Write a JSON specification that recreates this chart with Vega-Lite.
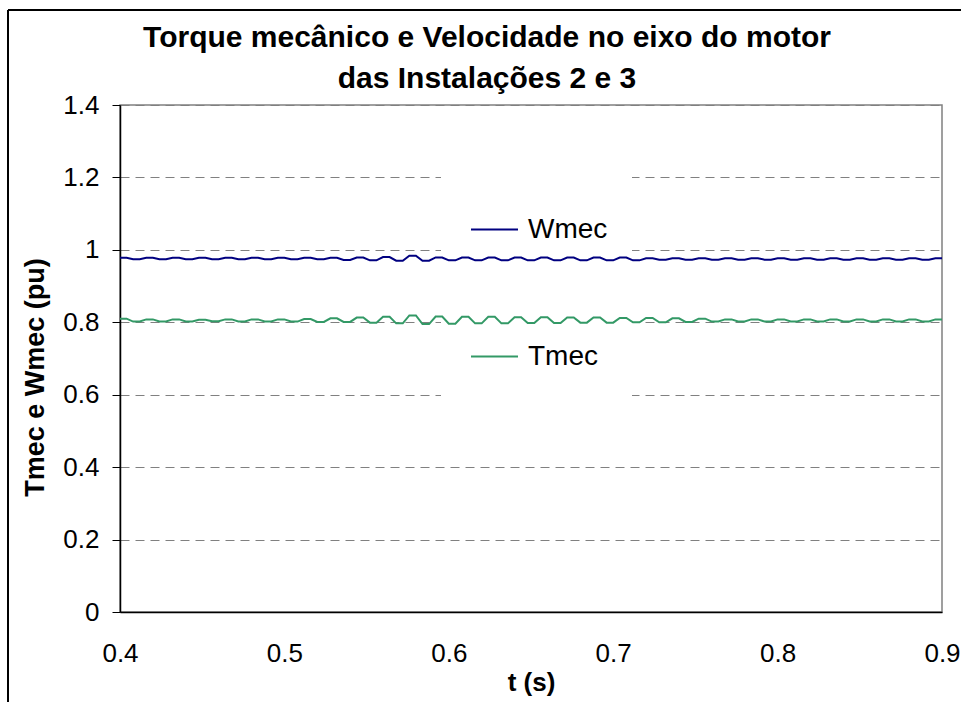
{
  "$schema": "https://vega.github.io/schema/vega-lite/v6.json",
  "autosize": "none",
  "width": 822,
  "height": 507,
  "padding": {"left": 120, "top": 105, "right": 19, "bottom": 90},
  "background": "white",
  "title": {
    "text": ["Torque mecânico e Velocidade no eixo do motor", "das Instalações 2 e 3"],
    "font": "Liberation Sans",
    "fontSize": 30,
    "fontWeight": "bold",
    "color": "black",
    "anchor": "middle",
    "frame": "group",
    "dx": -44,
    "dy": 85,
    "lineHeight": 41,
    "offset": 0
  },
  "data": {
    "values": [
      {"t": 0.400, "Wmec": 0.978, "Tmec": 0.810},
      {"t": 0.404, "Wmec": 0.978, "Tmec": 0.810},
      {"t": 0.408, "Wmec": 0.974, "Tmec": 0.802},
      {"t": 0.412, "Wmec": 0.974, "Tmec": 0.802},
      {"t": 0.416, "Wmec": 0.978, "Tmec": 0.808},
      {"t": 0.420, "Wmec": 0.978, "Tmec": 0.808},
      {"t": 0.424, "Wmec": 0.974, "Tmec": 0.802},
      {"t": 0.428, "Wmec": 0.974, "Tmec": 0.802},
      {"t": 0.432, "Wmec": 0.978, "Tmec": 0.808},
      {"t": 0.436, "Wmec": 0.978, "Tmec": 0.808},
      {"t": 0.440, "Wmec": 0.974, "Tmec": 0.802},
      {"t": 0.444, "Wmec": 0.974, "Tmec": 0.802},
      {"t": 0.448, "Wmec": 0.978, "Tmec": 0.807},
      {"t": 0.452, "Wmec": 0.978, "Tmec": 0.807},
      {"t": 0.456, "Wmec": 0.974, "Tmec": 0.803},
      {"t": 0.460, "Wmec": 0.974, "Tmec": 0.803},
      {"t": 0.464, "Wmec": 0.978, "Tmec": 0.808},
      {"t": 0.468, "Wmec": 0.978, "Tmec": 0.808},
      {"t": 0.472, "Wmec": 0.974, "Tmec": 0.802},
      {"t": 0.476, "Wmec": 0.974, "Tmec": 0.802},
      {"t": 0.480, "Wmec": 0.978, "Tmec": 0.808},
      {"t": 0.484, "Wmec": 0.978, "Tmec": 0.808},
      {"t": 0.488, "Wmec": 0.974, "Tmec": 0.802},
      {"t": 0.492, "Wmec": 0.974, "Tmec": 0.802},
      {"t": 0.496, "Wmec": 0.978, "Tmec": 0.808},
      {"t": 0.500, "Wmec": 0.978, "Tmec": 0.808},
      {"t": 0.504, "Wmec": 0.974, "Tmec": 0.802},
      {"t": 0.508, "Wmec": 0.974, "Tmec": 0.802},
      {"t": 0.512, "Wmec": 0.978, "Tmec": 0.809},
      {"t": 0.516, "Wmec": 0.978, "Tmec": 0.809},
      {"t": 0.520, "Wmec": 0.974, "Tmec": 0.801},
      {"t": 0.524, "Wmec": 0.974, "Tmec": 0.801},
      {"t": 0.528, "Wmec": 0.978, "Tmec": 0.811},
      {"t": 0.532, "Wmec": 0.978, "Tmec": 0.811},
      {"t": 0.536, "Wmec": 0.972, "Tmec": 0.801},
      {"t": 0.540, "Wmec": 0.972, "Tmec": 0.801},
      {"t": 0.544, "Wmec": 0.979, "Tmec": 0.813},
      {"t": 0.548, "Wmec": 0.979, "Tmec": 0.813},
      {"t": 0.552, "Wmec": 0.971, "Tmec": 0.799},
      {"t": 0.556, "Wmec": 0.971, "Tmec": 0.799},
      {"t": 0.560, "Wmec": 0.980, "Tmec": 0.815},
      {"t": 0.564, "Wmec": 0.980, "Tmec": 0.815},
      {"t": 0.568, "Wmec": 0.970, "Tmec": 0.797},
      {"t": 0.572, "Wmec": 0.970, "Tmec": 0.797},
      {"t": 0.576, "Wmec": 0.984, "Tmec": 0.819},
      {"t": 0.580, "Wmec": 0.984, "Tmec": 0.819},
      {"t": 0.584, "Wmec": 0.970, "Tmec": 0.795},
      {"t": 0.588, "Wmec": 0.970, "Tmec": 0.795},
      {"t": 0.592, "Wmec": 0.979, "Tmec": 0.816},
      {"t": 0.596, "Wmec": 0.979, "Tmec": 0.816},
      {"t": 0.600, "Wmec": 0.971, "Tmec": 0.796},
      {"t": 0.604, "Wmec": 0.971, "Tmec": 0.796},
      {"t": 0.608, "Wmec": 0.979, "Tmec": 0.815},
      {"t": 0.612, "Wmec": 0.979, "Tmec": 0.815},
      {"t": 0.616, "Wmec": 0.971, "Tmec": 0.797},
      {"t": 0.620, "Wmec": 0.971, "Tmec": 0.797},
      {"t": 0.624, "Wmec": 0.979, "Tmec": 0.815},
      {"t": 0.628, "Wmec": 0.979, "Tmec": 0.815},
      {"t": 0.632, "Wmec": 0.971, "Tmec": 0.797},
      {"t": 0.636, "Wmec": 0.971, "Tmec": 0.797},
      {"t": 0.640, "Wmec": 0.979, "Tmec": 0.814},
      {"t": 0.644, "Wmec": 0.979, "Tmec": 0.814},
      {"t": 0.648, "Wmec": 0.971, "Tmec": 0.798},
      {"t": 0.652, "Wmec": 0.971, "Tmec": 0.798},
      {"t": 0.656, "Wmec": 0.979, "Tmec": 0.814},
      {"t": 0.660, "Wmec": 0.979, "Tmec": 0.814},
      {"t": 0.664, "Wmec": 0.971, "Tmec": 0.798},
      {"t": 0.668, "Wmec": 0.971, "Tmec": 0.798},
      {"t": 0.672, "Wmec": 0.979, "Tmec": 0.813},
      {"t": 0.676, "Wmec": 0.979, "Tmec": 0.813},
      {"t": 0.680, "Wmec": 0.971, "Tmec": 0.799},
      {"t": 0.684, "Wmec": 0.971, "Tmec": 0.799},
      {"t": 0.688, "Wmec": 0.979, "Tmec": 0.813},
      {"t": 0.692, "Wmec": 0.979, "Tmec": 0.813},
      {"t": 0.696, "Wmec": 0.971, "Tmec": 0.799},
      {"t": 0.700, "Wmec": 0.971, "Tmec": 0.799},
      {"t": 0.704, "Wmec": 0.979, "Tmec": 0.812},
      {"t": 0.708, "Wmec": 0.979, "Tmec": 0.812},
      {"t": 0.712, "Wmec": 0.971, "Tmec": 0.800},
      {"t": 0.716, "Wmec": 0.971, "Tmec": 0.800},
      {"t": 0.720, "Wmec": 0.977, "Tmec": 0.812},
      {"t": 0.724, "Wmec": 0.977, "Tmec": 0.812},
      {"t": 0.728, "Wmec": 0.973, "Tmec": 0.800},
      {"t": 0.732, "Wmec": 0.973, "Tmec": 0.800},
      {"t": 0.736, "Wmec": 0.977, "Tmec": 0.811},
      {"t": 0.740, "Wmec": 0.977, "Tmec": 0.811},
      {"t": 0.744, "Wmec": 0.973, "Tmec": 0.801},
      {"t": 0.748, "Wmec": 0.973, "Tmec": 0.801},
      {"t": 0.752, "Wmec": 0.977, "Tmec": 0.810},
      {"t": 0.756, "Wmec": 0.977, "Tmec": 0.810},
      {"t": 0.760, "Wmec": 0.973, "Tmec": 0.802},
      {"t": 0.764, "Wmec": 0.973, "Tmec": 0.802},
      {"t": 0.768, "Wmec": 0.977, "Tmec": 0.808},
      {"t": 0.772, "Wmec": 0.977, "Tmec": 0.808},
      {"t": 0.776, "Wmec": 0.973, "Tmec": 0.802},
      {"t": 0.780, "Wmec": 0.973, "Tmec": 0.802},
      {"t": 0.784, "Wmec": 0.977, "Tmec": 0.808},
      {"t": 0.788, "Wmec": 0.977, "Tmec": 0.808},
      {"t": 0.792, "Wmec": 0.973, "Tmec": 0.802},
      {"t": 0.796, "Wmec": 0.973, "Tmec": 0.802},
      {"t": 0.800, "Wmec": 0.977, "Tmec": 0.808},
      {"t": 0.804, "Wmec": 0.977, "Tmec": 0.808},
      {"t": 0.808, "Wmec": 0.973, "Tmec": 0.802},
      {"t": 0.812, "Wmec": 0.973, "Tmec": 0.802},
      {"t": 0.816, "Wmec": 0.977, "Tmec": 0.808},
      {"t": 0.820, "Wmec": 0.977, "Tmec": 0.808},
      {"t": 0.824, "Wmec": 0.973, "Tmec": 0.802},
      {"t": 0.828, "Wmec": 0.973, "Tmec": 0.802},
      {"t": 0.832, "Wmec": 0.977, "Tmec": 0.808},
      {"t": 0.836, "Wmec": 0.977, "Tmec": 0.808},
      {"t": 0.840, "Wmec": 0.973, "Tmec": 0.802},
      {"t": 0.844, "Wmec": 0.973, "Tmec": 0.802},
      {"t": 0.848, "Wmec": 0.977, "Tmec": 0.808},
      {"t": 0.852, "Wmec": 0.977, "Tmec": 0.808},
      {"t": 0.856, "Wmec": 0.973, "Tmec": 0.802},
      {"t": 0.860, "Wmec": 0.973, "Tmec": 0.802},
      {"t": 0.864, "Wmec": 0.977, "Tmec": 0.808},
      {"t": 0.868, "Wmec": 0.977, "Tmec": 0.808},
      {"t": 0.872, "Wmec": 0.973, "Tmec": 0.802},
      {"t": 0.876, "Wmec": 0.973, "Tmec": 0.802},
      {"t": 0.880, "Wmec": 0.977, "Tmec": 0.808},
      {"t": 0.884, "Wmec": 0.977, "Tmec": 0.808},
      {"t": 0.888, "Wmec": 0.973, "Tmec": 0.802},
      {"t": 0.892, "Wmec": 0.973, "Tmec": 0.802},
      {"t": 0.896, "Wmec": 0.977, "Tmec": 0.808},
      {"t": 0.900, "Wmec": 0.977, "Tmec": 0.808}
    ]
  },
  "layer": [
    {
      "mark": {"type": "rule", "color": "black", "strokeWidth": 1.2},
      "encoding": {
        "x": {"datum": 0.33187, "type": "quantitative"},
        "y": {"datum": 1.6623, "type": "quantitative"},
        "y2": {"datum": -0.26}
      }
    },
    {
      "mark": {"type": "rule", "color": "black", "strokeWidth": 1.2},
      "encoding": {
        "x": {"datum": 0.33187, "type": "quantitative"},
        "x2": {"datum": 0.92},
        "y": {"datum": 1.6623, "type": "quantitative"}
      }
    },
    {
      "mark": {"type": "rect", "fill": "white", "stroke": null},
      "encoding": {
        "x": {"datum": 0.5953, "type": "quantitative"},
        "x2": {"datum": 0.7114},
        "y": {"datum": 0.533, "type": "quantitative"},
        "y2": {"datum": 1.232}
      }
    },
    {
      "transform": [{"fold": ["Wmec", "Tmec"], "as": ["serie", "valor"]}],
      "mark": {"type": "line", "strokeWidth": 2, "interpolate": "linear"},
      "encoding": {
        "x": {
          "field": "t",
          "type": "quantitative",
          "scale": {"domain": [0.4, 0.9], "nice": false, "zero": false},
          "axis": {
            "values": [0.4, 0.5, 0.6, 0.7, 0.8, 0.9],
            "format": ".1f",
            "ticks": false,
            "tickSize": 0,
            "labelPadding": 28,
            "labelFlush": false,
            "labelOverlap": false,
            "grid": false,
            "title": "t (s)",
            "titleY": 78,
            "titleBaseline": "alphabetic"
          }
        },
        "y": {
          "field": "valor",
          "type": "quantitative",
          "scale": {"domain": [0, 1.4], "nice": false},
          "axis": {
            "values": [0, 0.2, 0.4, 0.6, 0.8, 1, 1.2, 1.4],
            "format": "~g",
            "tickSize": 8,
            "labelPadding": 13,
            "labelFlush": false,
            "grid": true,
            "title": "Tmec e Wmec (pu)",
            "titleFontSize": 27,
            "titleX": -77,
            "titleY": 272,
            "titleBaseline": "alphabetic",
            "titleAlign": "center"
          }
        },
        "color": {
          "field": "serie",
          "type": "nominal",
          "scale": {"domain": ["Wmec", "Tmec"], "range": ["#000080", "#339966"]},
          "legend": {
            "title": null,
            "orient": "none",
            "legendX": 350,
            "legendY": 100,
            "symbolType": "stroke",
            "symbolSize": 2209,
            "symbolStrokeWidth": 2,
            "labelFontSize": 28,
            "labelFont": "Liberation Sans",
            "labelColor": "black",
            "labelOffset": 9,
            "rowPadding": 88,
            "padding": 0
          }
        }
      }
    }
  ],
  "config": {
    "font": "Liberation Sans",
    "view": {"stroke": "#808080", "strokeWidth": 1.5},
    "axis": {
      "labelFont": "Liberation Sans",
      "labelFontSize": 26,
      "labelColor": "black",
      "titleFont": "Liberation Sans",
      "titleFontSize": 26,
      "titleFontWeight": "bold",
      "titleColor": "black",
      "domainColor": "black",
      "domainWidth": 1.5,
      "tickColor": "black",
      "tickWidth": 1,
      "gridColor": "#808080",
      "gridDash": [9, 6],
      "gridWidth": 1
    }
  }
}
